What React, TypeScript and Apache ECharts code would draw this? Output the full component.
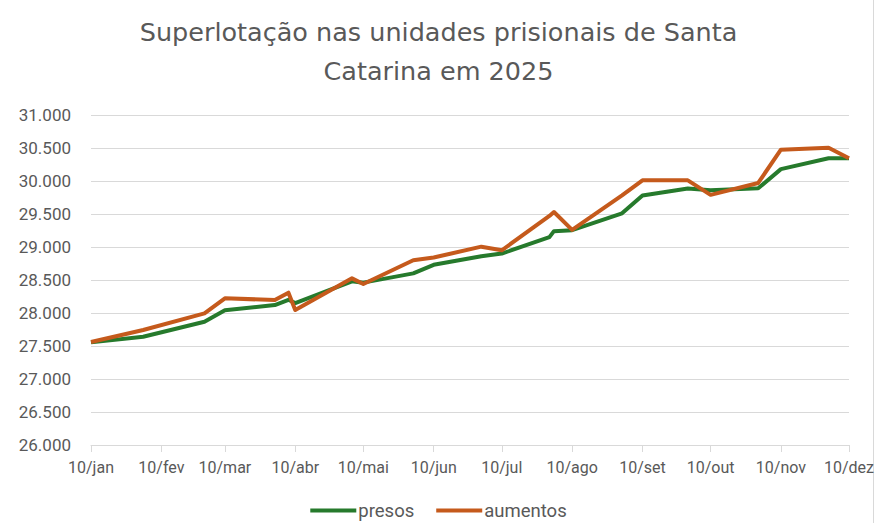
import React, { useEffect, useRef } from "react";
import * as echarts from "echarts";

const dates = [
  "2025-01-10", "2025-02-02", "2025-03-01", "2025-03-10", "2025-04-01", "2025-04-07",
  "2025-04-10", "2025-05-05", "2025-05-10", "2025-06-01", "2025-06-10", "2025-07-01",
  "2025-07-10", "2025-07-31", "2025-08-02", "2025-08-10", "2025-09-01", "2025-09-10",
  "2025-09-30", "2025-10-10", "2025-10-31", "2025-11-10", "2025-12-01", "2025-12-10",
];
const presos = [
  27555, 27640, 27868, 28040, 28121, 28200, 28150, 28480, 28460, 28600, 28730, 28860,
  28900, 29150, 29240, 29255, 29510, 29780, 29885, 29860, 29890, 30180, 30345, 30345,
];
const aumentos = [
  27560, 27742, 27995, 28222, 28197, 28308, 28045, 28525, 28440, 28800, 28840, 29005,
  28950, 29470, 29530, 29260, 29781, 30010, 30010, 29790, 29970, 30475, 30505, 30345,
];
const tickLabels = [
  "10/jan", "10/fev", "10/mar", "10/abr", "10/mai", "10/jun",
  "10/jul", "10/ago", "10/set", "10/out", "10/nov", "10/dez",
];
const seriesNames = ["presos", "aumentos"];
const titleText = "Superlotação nas unidades prisionais de Santa\nCatarina em 2025";

const DAY = 86400000;
const dayNum = (d: string) => {
  const [y, m, dd] = d.split("-").map(Number);
  return Math.round(Date.UTC(y, m - 1, dd) / DAY);
};

export default function App() {
  const ref = useRef<HTMLDivElement>(null);
  useEffect(() => {
    if (!ref.current) return;
    const chart = echarts.init(ref.current, null, { renderer: "svg" });
    const tickDays = tickLabels.map((_, i) => Math.round(Date.UTC(2025, i, 10) / DAY));
    const titleFont = "'DejaVu Sans', 'Open Sans', sans-serif";
    const axisFont = "'Liberation Sans Narrow', Roboto, sans-serif";
    chart.setOption({
      animation: false,
      backgroundColor: "#ffffff",
      textStyle: { fontFamily: axisFont },
      title: {
        text: titleText,
        left: "center",
        top: 7,
        textStyle: {
          color: "#595959",
          fontSize: 25.5,
          fontWeight: "normal",
          fontFamily: titleFont,
          lineHeight: 39,
        },
      },
      grid: { left: 91, right: 27, top: 115, bottom: 78, containLabel: false },
      legend: {
        bottom: -2,
        left: "center",
        icon: "rect",
        itemWidth: 46,
        itemHeight: 4,
        itemGap: 22,
        textStyle: { color: "#595959", fontSize: 18.5, fontFamily: axisFont, padding: [0, 0, 0, -3] },
        data: seriesNames,
      },
      xAxis: {
        type: "value",
        min: tickDays[0],
        max: tickDays[tickDays.length - 1],
        axisLine: { show: true, lineStyle: { color: "#d9d9d9", width: 1 } },
        axisTick: {
          show: true,
          length: 7,
          customValues: tickDays,
          lineStyle: { color: "#d9d9d9" },
        },
        axisLabel: {
          customValues: tickDays,
          color: "#595959",
          fontSize: 16,
          fontFamily: axisFont,
          margin: 14,
          hideOverlap: false,
          showMinLabel: true,
          showMaxLabel: true,
          formatter: (v: number) => {
            const idx = tickDays.indexOf(v);
            return idx >= 0 ? tickLabels[idx] : "";
          },
        },
        splitLine: { show: false },
      },
      yAxis: {
        type: "value",
        min: 26000,
        max: 31000,
        interval: 500,
        axisLine: { show: false },
        axisTick: { show: false },
        axisLabel: {
          color: "#595959",
          fontSize: 17,
          fontFamily: "Roboto, sans-serif",
          margin: 20,
          formatter: (v: number) => {
            const th = Math.floor(v / 1000);
            const rest = String(v % 1000).padStart(3, "0");
            return `${th}.${rest}`;
          },
        },
        splitLine: { lineStyle: { color: "#d9d9d9", width: 1 } },
      },
      series: [
        {
          name: seriesNames[0],
          type: "line",
          data: dates.map((d, i) => [dayNum(d), presos[i]]),
          showSymbol: false,
          symbol: "none",
          lineStyle: { color: "#267a2c", width: 4, join: "round" },
          itemStyle: { color: "#267a2c" },
        },
        {
          name: seriesNames[1],
          type: "line",
          data: dates.map((d, i) => [dayNum(d), aumentos[i]]),
          showSymbol: false,
          symbol: "none",
          lineStyle: { color: "#c55a1c", width: 4, join: "round" },
          itemStyle: { color: "#c55a1c" },
        },
      ],
      graphic: [
        {
          type: "line",
          shape: { x1: 873.5, y1: 0, x2: 873.5, y2: 523 },
          style: { stroke: "#d9d9d9", lineWidth: 1 },
        },
      ],
    });
    return () => chart.dispose();
  }, []);
  return (
    <div
      ref={ref}
      style={{ position: "absolute", left: 0, top: 0, width: 877, height: 523 }}
    />
  );
}
